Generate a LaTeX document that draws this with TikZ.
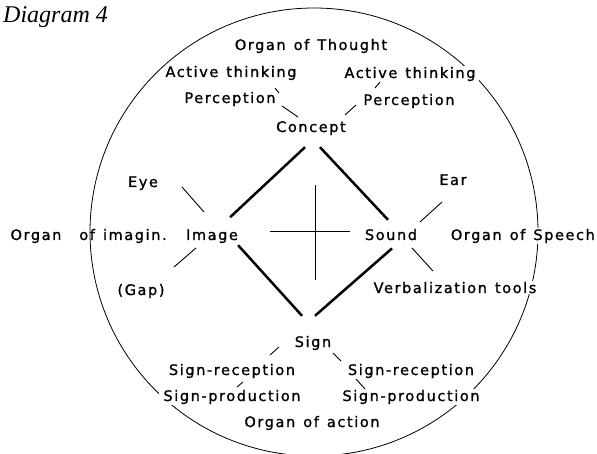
\documentclass[tikz,border=0pt]{standalone}
\usepackage{fontspec}
\newfontfamily\termfont[LetterSpace=11, FakeBold=1.2, WordSpace=1.3]{DejaVu Sans}
\newfontfamily\titlefont{Liberation Serif}
\usetikzlibrary{positioning}
\tikzstyle{term} = [font=\termfont\fontsize{14.5}{17}\selectfont, inner sep=1pt, anchor=base]
\tikzstyle{gapterm} = [term, fill=white, inner xsep=4pt]
\tikzstyle{bond} = [line width=2.5pt]
\tikzstyle{wire} = [line width=0.9pt]

\begin{document}
\begin{tikzpicture}[x=1pt, y=-1pt]
    \useasboundingbox (0,0) rectangle (597,454);
    % outer circle, drawn first so that some labels cut it
    \draw[line width=0.8pt] (314,232) circle[radius=224pt];

    \node[anchor=base west, font=\titlefont\itshape\fontsize{24}{27}\selectfont, inner sep=0pt] (Title) at (3,23) {Diagram 4};

    \node[term] (Thought) at (311,50) {Organ of Thought};
    \node[term] (ActL) at (231,77) {Active thinking};
    \node[gapterm] (ActR) at (410,78) {Active thinking};
    \node[term] (PercL) at (230,103) {Perception};
    \node[term] (PercR) at (409,105) {Perception};
    \node[term] (Concept) at (311,132) {Concept};

    \node[term] (Eye) at (143,187) {Eye};
    \node[term] (OrganL) at (36,240) {Organ};
    \node[term] (Imagin) at (123,240) {of imagin.};
    \node[term] (Image) at (212,240) {Image};
    \node[term] (Gap) at (141,295) {(Gap)};

    \node[term] (Ear) at (453,185) {Ear};
    \node[term] (Sound) at (391,240) {Sound};
    \node[gapterm, anchor=base east, inner xsep=2pt] (Speech) at (597,240) {Organ of Speech};
    \node[gapterm] (Verbal) at (455,293) {Verbalization tools};

    \node[term] (Sign) at (313,347) {Sign};
    \node[term] (RecL) at (232,375) {Sign-reception};
    \node[term] (RecR) at (411,375) {Sign-reception};
    \node[gapterm] (ProdL) at (232,401) {Sign-production};
    \node[gapterm] (ProdR) at (411,401) {Sign-production};
    \node[term] (Action) at (312,427) {Organ of action};

    % the diamond
    \draw[bond] ([shift={(-6,11)}]Concept.south) -- ([shift={(-9,-11)}]Image.north east);
    \draw[bond] ([shift={(9,11)}]Concept.south) -- ([shift={(-3,-8)}]Sound.north);
    \draw[bond] ([shift={(-1,1)}]Image.south east) -- ([shift={(-11,-19)}]Sign.north);
    \draw[bond] ([shift={(1,7)}]Sound.south) -- ([shift={(2,-19)}]Sign.north);

    % the cross
    \coordinate (crossW) at (270,232);
    \coordinate (crossE) at (350,232);
    \coordinate (crossN) at (315,185);
    \coordinate (crossS) at (315,280);
    \draw[line width=1pt] (crossW) -- (crossE);
    \draw[line width=1pt] (crossN) -- (crossS);

    % short strokes
    \coordinate (a1) at (275,88);  \coordinate (a2) at (279,93);
    \coordinate (b1) at (282,106); \coordinate (b2) at (298,117);
    \coordinate (c1) at (380,82);  \coordinate (c2) at (375,88);
    \coordinate (d1) at (356,105); \coordinate (d2) at (345,115);
    \coordinate (e1) at (182,187); \coordinate (e2) at (204,212);
    \coordinate (g1) at (196,248); \coordinate (g2) at (174,267);
    \coordinate (r1) at (442,202); \coordinate (r2) at (420,222);
    \coordinate (v1) at (412,248); \coordinate (v2) at (433,271);
    \coordinate (s1) at (279,347); \coordinate (s2) at (270,355);
    \coordinate (t1) at (333,353); \coordinate (t2) at (341,361);
    \coordinate (p1) at (237,387); \coordinate (p2) at (243,382);
    \coordinate (q1) at (356,379); \coordinate (q2) at (365,389);
    \draw[wire] (a1) -- (a2);
    \draw[wire] (b1) -- (b2);
    \draw[wire] (c1) -- (c2);
    \draw[wire] (d1) -- (d2);
    \draw[wire] (e1) -- (e2);
    \draw[wire] (g1) -- (g2);
    \draw[wire] (r1) -- (r2);
    \draw[wire] (v1) -- (v2);
    \draw[wire] (s1) -- (s2);
    \draw[wire] (t1) -- (t2);
    \draw[wire] (p1) -- (p2);
    \draw[wire] (q1) -- (q2);
\end{tikzpicture}
\end{document}
